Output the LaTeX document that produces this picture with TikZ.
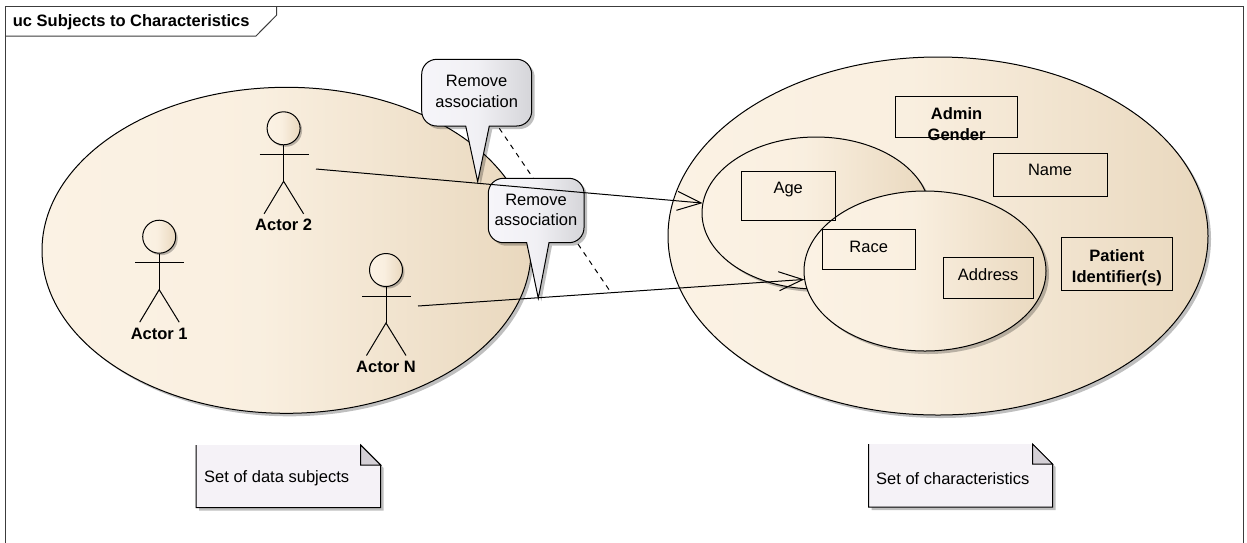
\documentclass[tikz,border=0pt]{standalone}
\usepackage{fontspec}
\setmainfont{Liberation Sans}
\usetikzlibrary{shapes.geometric,shadows,arrows.meta}
\definecolor{framec}{RGB}{60,60,60}
\definecolor{notefill}{RGB}{245,242,247}
\definecolor{earfill}{RGB}{212,208,214}
\pgfdeclarehorizontalshading{creamshade}{100bp}{rgb(0bp)=(0.984,0.949,0.894); rgb(25bp)=(0.984,0.949,0.894); rgb(47bp)=(0.978,0.938,0.878); rgb(75bp)=(0.914,0.847,0.745); rgb(100bp)=(0.914,0.847,0.745)}
\pgfdeclarehorizontalshading{bubshade}{100bp}{rgb(0bp)=(0.965,0.961,0.980); rgb(25bp)=(0.965,0.961,0.980); rgb(50bp)=(0.945,0.942,0.958); rgb(75bp)=(0.835,0.835,0.850); rgb(100bp)=(0.835,0.835,0.850)}
\newcommand\umlactor[4]{%
  \begin{scope}[shift={(#2,#3)}]
    \node[head] (#1) at (0,0) {};
    \draw[actorline] (-24,26) -- (25,26);
    \draw[actorline] (#1.south) -- (0,53) coordinate (#1hip);
    \draw[actorline] (-19.5,85.5) -- (#1hip) -- (20,85.5);
    \node[actorlabel] (#1lbl) at (0,97) {#4};
  \end{scope}}
\tikzset{
  sh/.style={drop shadow={shadow xshift=3pt, shadow yshift=-3pt, opacity=0.25, fill=black}},
  setell/.style={ellipse, draw, line width=1pt, shade, shading=creamshade, inner sep=0pt, sh},
  cbox/.style={draw, line width=1pt, inner sep=0pt, anchor=north west},
  ctext/.style={anchor=north, inner sep=0pt, yshift=-11.6pt, align=center, font=\fontsize{16.5}{21.5}\selectfont},
  ctextb/.style={ctext, font=\fontsize{16.5}{21.5}\selectfont\bfseries},
  head/.style={circle, draw, line width=1pt, minimum size=33pt, inner sep=0pt, shade, shading=creamshade,
    drop shadow={shadow xshift=2pt, shadow yshift=-2pt, opacity=0.25, fill=black}},
  actorline/.style={line width=1pt},
  actorlabel/.style={inner sep=0pt, font=\fontsize{16.5}{20.5}\selectfont\bfseries},
  assoc/.style={line width=1pt, -{Straight Barb[length=24pt, width=19pt]}},
  notelink/.style={line width=1pt, dash pattern=on 5pt off 5pt},
  bubble/.style={draw, line width=1pt, shade, shading=bubshade, sh},
  bubtext/.style={inner sep=0pt, align=center, font=\fontsize{16.5}{20.5}\selectfont},
  notebody/.style={fill=notefill, sh},
  noteline/.style={line width=1pt},
  ear/.style={fill=earfill, draw, line width=1pt},
  notetext/.style={anchor=west, inner sep=0pt, font=\fontsize{16.5}{20.5}\selectfont},
}
\begin{document}
\begin{tikzpicture}[x=1pt, y=-1pt]
\useasboundingbox[fill=white] (0,0) rectangle (1247,542);
% frame
\draw[framec, line width=1pt] (5.7,560) -- (5.7,6.7) -- (1243,6.7) -- (1243,560);
\draw[framec, line width=1pt] (5.7,36) -- (256,36) -- (276.7,15) -- (276.7,6.7);
\node[anchor=base west, inner sep=0pt, font=\fontsize{16.5}{20}\selectfont\bfseries] (title) at (12.7,26.7) {uc Subjects to Characteristics};
% sets
\node[setell, minimum width=489pt, minimum height=326pt] (subjects) at (286.5,250.3) {};
\node[setell, minimum width=540pt, minimum height=358pt] (chars) at (938,236) {};
\node[setell, minimum width=228pt, minimum height=152pt] (age) at (816,213) {};
\node[setell, minimum width=242pt, minimum height=160pt] (race) at (925,271) {};
% characteristic boxes
\node[cbox, minimum width=121.4pt, minimum height=41.6pt, label={[ctextb]north:{Admin\\Gender}}] (badmin) at (895.4,95.7) {};
\node[cbox, minimum width=114pt, minimum height=43.3pt, label={[ctext]north:Name}] (bname) at (992.5,152.7) {};
\node[cbox, minimum width=94pt, minimum height=49.3pt, label={[ctext]north:Age}] (bage) at (740.7,170.7) {};
\node[cbox, minimum width=92.8pt, minimum height=40pt, label={[ctext]north:Race}] (brace) at (821.8,229.3) {};
\node[cbox, minimum width=89.6pt, minimum height=41.3pt, label={[ctext]north:Address}] (baddr) at (942.9,256.7) {};
\node[cbox, minimum width=110.8pt, minimum height=52.7pt, label={[ctextb]north:{Patient\\Identifier(s)}}] (bpat) at (1061,237.3) {};
% actors
\umlactor{a2}{283.6}{128.3}{Actor 2}
\umlactor{a1}{159.2}{236.7}{Actor 1}
\umlactor{aN}{386}{270}{Actor N}
\coordinate (a2r) at (316,169);
\coordinate (aNr) at (418,306);
\path (aNr) -- coordinate[pos=0.5] (lowmid) (race.184);
\coordinate (b1link) at (499.3,128.3);
% note link
\draw[notelink] (b1link) -- (lowmid);
% callouts
\path[bubble] (477.7,181.7) -- (465.7,126) -- (436.7,126) arc[start angle=90, end angle=180, radius=15]
  -- (421.7,74.3) arc[start angle=180, end angle=270, radius=15]
  -- (516.7,59.3) arc[start angle=270, end angle=360, radius=15]
  -- (531.7,111) arc[start angle=0, end angle=90, radius=15] -- (489.3,126) -- cycle;
\node[bubtext] (b1) at (476.7,91.5) {Remove\\association};
\path[bubble] (538.3,298.3) -- (526.7,242.7) -- (503.3,242.7) arc[start angle=90, end angle=180, radius=15]
  -- (488.3,193.3) arc[start angle=180, end angle=270, radius=15]
  -- (569,178.3) arc[start angle=270, end angle=360, radius=15]
  -- (584,227.7) arc[start angle=0, end angle=90, radius=15] -- (549,242.7) -- cycle;
\node[bubtext] (b2) at (536,209.7) {Remove\\association};
% associations
\draw[assoc] (a2r) -- (age.175);
\draw[assoc] (aNr) -- (race.184);
% notes
\path[notebody] (196,445) -- (360.7,445) -- (380.7,465) -- (380.7,507.7) -- (196,507.7) -- cycle;
\draw[noteline] (360.7,445) -- (380.7,465) -- (380.7,507.7) -- (196,507.7) -- (196,445);
\draw[ear] (360.7,445) -- (360.7,465) -- (380.7,465) -- cycle;
\node[notetext] (n1) at (204,478.3) {Set of data subjects};
\path[notebody] (868.5,444) -- (1032.5,444) -- (1052.5,464) -- (1052.5,507) -- (868.5,507) -- cycle;
\draw[noteline] (1032.5,444) -- (1052.5,464) -- (1052.5,507) -- (868.5,507) -- (868.5,444);
\draw[ear] (1032.5,444) -- (1032.5,464) -- (1052.5,464) -- cycle;
\node[notetext] (n2) at (876,478.3) {Set of characteristics};
\end{tikzpicture}
\end{document}
